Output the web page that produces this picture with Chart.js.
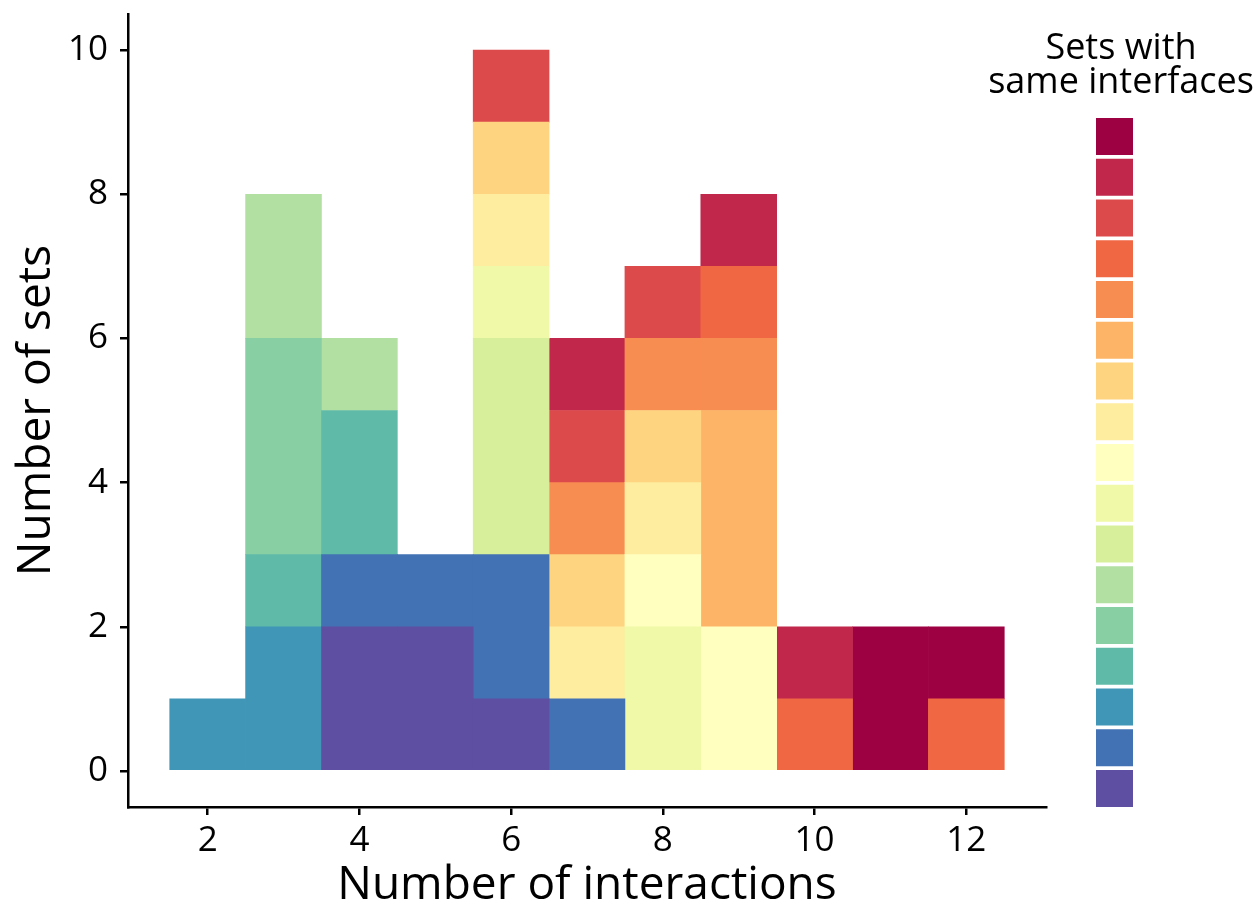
<!DOCTYPE html>
<html>
<head>
<meta charset="utf-8">
<script src="https://cdn.jsdelivr.net/npm/chart.js@4.4.0/dist/chart.umd.min.js"></script>
<style>
  html, body { margin: 0; padding: 0; background: #fff; }
  #wrap { width: 1260px; height: 909px; }
</style>
</head>
<body>
<div id="wrap"><canvas id="histChart" width="1260" height="909"></canvas></div>
<script>
// number of interactions (x) and tick labels
const interactions = [2, 3, 4, 5, 6, 7, 8, 9, 10, 11, 12];
const xTicks = [2, 4, 6, 8, 10, 12];
const yTicks = [0, 2, 4, 6, 8, 10];

// counts per "sets with same interfaces" group, bottom (1) to top (17)
const group1  = [0, 0, 2, 2, 1, 0, 0, 0, 0, 0, 0];
const group2  = [0, 0, 1, 1, 2, 1, 0, 0, 0, 0, 0];
const group3  = [1, 2, 0, 0, 0, 0, 0, 0, 0, 0, 0];
const group4  = [0, 1, 2, 0, 0, 0, 0, 0, 0, 0, 0];
const group5  = [0, 3, 0, 0, 0, 0, 0, 0, 0, 0, 0];
const group6  = [0, 2, 1, 0, 0, 0, 0, 0, 0, 0, 0];
const group7  = [0, 0, 0, 0, 3, 0, 0, 0, 0, 0, 0];
const group8  = [0, 0, 0, 0, 1, 0, 2, 0, 0, 0, 0];
const group9  = [0, 0, 0, 0, 0, 0, 1, 2, 0, 0, 0];
const group10 = [0, 0, 0, 0, 1, 1, 1, 0, 0, 0, 0];
const group11 = [0, 0, 0, 0, 1, 1, 1, 0, 0, 0, 0];
const group12 = [0, 0, 0, 0, 0, 0, 0, 3, 0, 0, 0];
const group13 = [0, 0, 0, 0, 0, 1, 1, 1, 0, 0, 0];
const group14 = [0, 0, 0, 0, 0, 0, 0, 1, 1, 0, 1];
const group15 = [0, 0, 0, 0, 1, 1, 1, 0, 0, 0, 0];
const group16 = [0, 0, 0, 0, 0, 1, 0, 1, 1, 0, 0];
const group17 = [0, 0, 0, 0, 0, 0, 0, 0, 0, 2, 1];

const groups = [group1, group2, group3, group4, group5, group6, group7, group8, group9,
  group10, group11, group12, group13, group14, group15, group16, group17];

// spectral palette, bottom group first
const groupColors = ["#5E4FA2", "#4272B3", "#3F96B7", "#5FBAA8", "#88CFA4", "#B2E0A2",
  "#D7EF9B", "#EFF9A7", "#FFFFBF", "#FEEC9F", "#FED480", "#FDB466", "#F88D52",
  "#F06744", "#DD4A4C", "#C0274A", "#9E0142"];

const FONT = '"Open Sans", "DejaVu Sans", sans-serif';

const datasets = groups.map((counts, i) => ({
  label: "group " + (i + 1),
  data: counts
    .map((v, j) => ({ x: interactions[j], y: v }))
    .filter((p) => p.y > 0),
  backgroundColor: groupColors[i],
  borderWidth: 0,
  barPercentage: 1,
  categoryPercentage: 1,
}));

// legend drawn on the right, title + one swatch per group
const swatchLegend = {
  id: "swatchLegend",
  afterDraw(chart) {
    const ctx = chart.ctx;
    ctx.save();
    ctx.fillStyle = "#000";
    ctx.font = "36px " + FONT;
    ctx.textAlign = "center";
    ctx.textBaseline = "alphabetic";
    ctx.fillText("Sets with", 1121, 59);
    ctx.fillText("same interfaces", 1121, 93);
    const n = groupColors.length;
    for (let k = 0; k < n; k++) {
      // top swatch is the last group
      ctx.fillStyle = groupColors[n - 1 - k];
      ctx.fillRect(1096, 118 + k * 40.75, 37, 37);
    }
    ctx.restore();
  },
};

var ctx = document.getElementById("histChart").getContext("2d");
var histChart = new Chart(ctx, {
  type: "bar",
  data: { datasets: datasets },
  options: {
    responsive: false,
    animation: false,
    layout: { padding: { top: 14, right: 214, left: 0, bottom: 0 } },
    plugins: {
      legend: { display: false },
      tooltip: { enabled: false },
    },
    scales: {
      x: {
        type: "linear",
        stacked: true,
        offset: false,
        min: 0.95,
        max: 13.05,
        afterBuildTicks: (axis) => {
          axis.ticks = xTicks.map((v) => ({ value: v }));
        },
        afterFit: (axis) => {
          axis.height = 102;
          axis.paddingLeft = 0;
          axis.paddingRight = 0;
        },
        grid: { display: true, offset: false, drawOnChartArea: false, tickLength: 8, color: "#000", lineWidth: 2.5 },
        border: { display: true, color: "#000", width: 2.5 },
        ticks: { color: "#000", font: { family: FONT, size: 35 }, padding: 5, maxRotation: 0 },
        title: {
          display: true,
          text: "Number of interactions",
          color: "#000",
          font: { family: FONT, size: 46, lineHeight: 1 },
          padding: { top: 0, bottom: 0 },
        },
      },
      y: {
        type: "linear",
        stacked: true,
        min: -0.5,
        max: 10.5,
        afterBuildTicks: (axis) => {
          axis.ticks = yTicks.map((v) => ({ value: v }));
        },
        afterFit: (axis) => {
          axis.width = 128;
          axis.paddingTop = 0;
          axis.paddingBottom = 0;
        },
        grid: { display: true, drawOnChartArea: false, tickLength: 8, color: "#000", lineWidth: 2.5 },
        border: { display: true, color: "#000", width: 2.5 },
        ticks: { color: "#000", font: { family: FONT, size: 35 }, padding: 12 },
        title: {
          display: true,
          text: "Number of sets",
          color: "#000",
          font: { family: FONT, size: 46 },
          padding: { top: 9, bottom: 0 },
        },
      },
    },
  },
  plugins: [swatchLegend],
});
</script>
</body>
</html>
